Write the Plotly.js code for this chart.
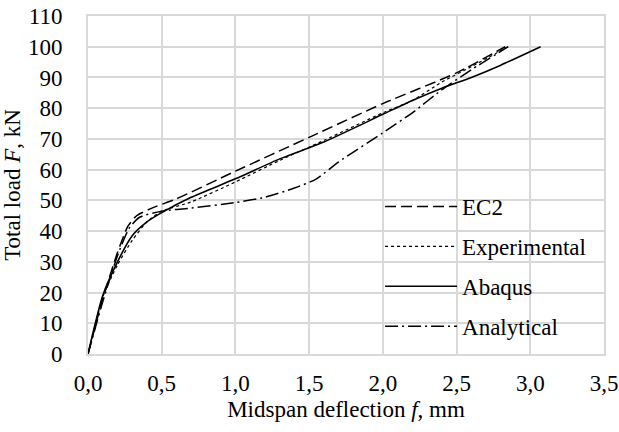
<!DOCTYPE html>
<html>
<head>
<meta charset="utf-8">
<script src="https://cdn.plot.ly/plotly-3.0.1.min.js"></script>
<style>html,body{margin:0;padding:0;background:#fff;}#chart{width:619px;height:432px;}</style>
</head>
<body>
<div id="chart"></div>
<script>
// Midspan deflection f (mm) and total load F (kN) for each series
const ec2X = [0, 0.1, 0.2, 0.27, 0.33, 0.45, 0.6, 1.0, 1.5, 2.0, 2.5, 2.83];
const ec2Y = [0, 18, 33, 41.5, 45, 47.8, 50.5, 59.5, 70.5, 81.5, 91.5, 100];

const expX = [0, 0.1, 0.2, 0.3, 0.4, 0.5, 0.7, 1.0, 1.3, 1.6, 2.0, 2.2, 2.4, 2.6, 2.85];
const expY = [0, 18.5, 29, 37, 43, 46.5, 49.5, 56, 63, 69.5, 78.5, 82.5, 88.5, 93.5, 100];

const abqX = [0, 0.1, 0.2, 0.3, 0.4, 0.5, 0.7, 1.0, 1.3, 1.6, 2.0, 2.2, 2.4, 2.6, 2.8, 3.07];
const abqY = [0, 19, 30, 38.5, 43, 46, 51, 57, 63.5, 69, 78, 82.5, 86.5, 90, 94, 100];

const anaX = [0, 0.1, 0.2, 0.28, 0.35, 0.5, 0.7, 1.0, 1.2, 1.4, 1.55, 1.7, 2.0, 2.2, 2.4, 2.6, 2.85];
const anaY = [0, 17, 32, 41, 44.5, 46.5, 47.5, 49.3, 51, 54, 57, 62.5, 72, 78.5, 86, 92.5, 100];

const names = ['EC2', 'Experimental', 'Abaqus', 'Analytical'];
const xTicks = [0, 0.5, 1.0, 1.5, 2.0, 2.5, 3.0, 3.5];
const yTicks = [0, 10, 20, 30, 40, 50, 60, 70, 80, 90, 100, 110];

const FONT = "'Liberation Serif'";
const FS = 23;

function tr(x, y, name, dash, width) {
  return {
    x: x, y: y, name: name, type: 'scatter', mode: 'lines',
    line: {color: '#000', width: width, dash: dash, shape: 'spline', smoothing: 0.6},
    legendgroup: name
  };
}

const data = [
  tr(ec2X, ec2Y, names[0], '11px,5px', 1.5),
  tr(expX, expY, names[1], 'dot', 1.2),
  tr(abqX, abqY, names[2], 'solid', 1.6),
  tr(anaX, anaY, names[3], '13px,4px,2px,4px', 1.5)
];

const layout = {
  width: 619, height: 432,
  margin: {l: 88, r: 15, t: 16, b: 78},
  paper_bgcolor: '#fff', plot_bgcolor: '#fff',
  font: {family: FONT, size: FS, color: '#000'},
  separators: ', ',
  showlegend: true,
  legend: {
    x: 0.566, y: 0.50, xanchor: 'left', yanchor: 'top',
    bgcolor: 'rgba(0,0,0,0)', borderwidth: 0,
    font: {family: FONT, size: FS, color: '#000'},
    itemwidth: 72, tracegroupgap: 7
  },
  xaxis: {
    range: [0, 3.5], tickvals: xTicks, tickformat: '.1f',
    showgrid: true, gridcolor: '#d9d9d9', gridwidth: 2,
    showline: true, linecolor: '#d9d9d9', linewidth: 2, mirror: true,
    zeroline: false, ticks: '', ticklabelstandoff: 7,
    tickfont: {family: FONT, size: FS, color: '#000'},
    title: {text: 'Midspan deflection <i>f</i>, mm', font: {family: FONT, size: FS, color: '#000'}, standoff: 6}
  },
  yaxis: {
    range: [0, 110], tickvals: yTicks,
    showgrid: true, gridcolor: '#d9d9d9', gridwidth: 2,
    showline: true, linecolor: '#d9d9d9', linewidth: 2, mirror: true,
    zeroline: false, ticks: '', ticklabelstandoff: 19,
    tickfont: {family: FONT, size: FS, color: '#000'},
    title: {text: 'Total load <i>F</i>, kN', font: {family: FONT, size: FS, color: '#000'}, standoff: 6}
  }
};

Plotly.newPlot('chart', data, layout, {displayModeBar: false, staticPlot: true});
</script>
</body>
</html>
